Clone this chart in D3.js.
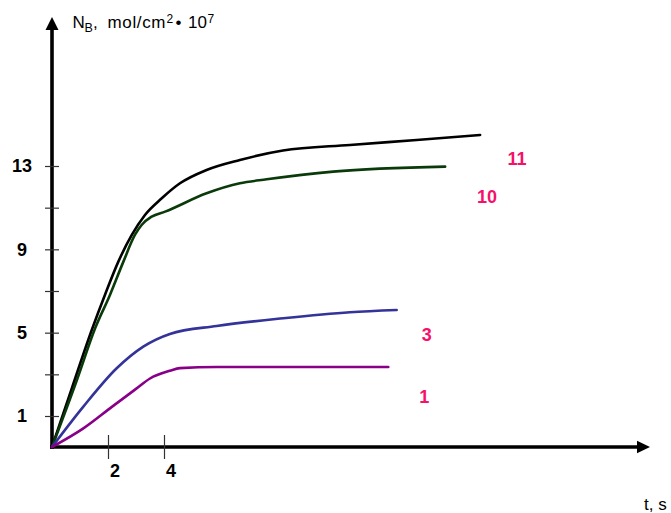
<!DOCTYPE html>
<html>
<head>
<meta charset="utf-8">
<script src="https://cdn.jsdelivr.net/npm/d3@7"></script>
<style>
  body { margin: 0; background: #fff; }
  svg { display: block; font-family: Arial, "Liberation Sans", sans-serif; }
</style>
</head>
<body>
<div id="grafico"></div>
<script>
// valores (t em s, N_B em mol/cm2 * 10^7)
const curveNames = ["11", "10", "3", "1"];
const t11 = [0, 0.71, 1.42, 1.89, 2.37, 2.85, 3.32, 3.92, 4.57, 5.52, 6.71, 8.25, 10.64, 13.02, 15.29];
const n11 = [0, 2.34, 5.13, 6.81, 8.41, 9.69, 10.65, 11.45, 12.17, 12.81, 13.29, 13.74, 14.01, 14.25, 14.49];
const t10 = [0, 0.89, 1.54, 2.07, 2.55, 2.96, 3.20, 3.56, 4.04, 5.52, 6.71, 7.67, 10.04, 14.04];
const n10 = [0, 2.73, 5.21, 6.81, 8.41, 9.69, 10.17, 10.57, 10.81, 11.69, 12.17, 12.36, 12.73, 12.97];
const t3 = [0, 1.12, 2.31, 3.26, 4.21, 5.88, 8.26, 10.64, 12.31];
const n3 = [0, 1.45, 3.29, 4.33, 4.94, 5.32, 5.69, 5.98, 6.09];
const t1 = [0, 1.12, 2.15, 3.00, 3.50, 4.21, 4.57, 5.88, 12.01];
const n1 = [0, 0.60, 1.45, 2.30, 2.80, 3.17, 3.30, 3.35, 3.35];

const yTicks = [1, 3, 5, 7, 9, 11, 13];
const yTickLabels = ["1", "", "5", "", "9", "", "13"];
const xTicks = [2, 4];

const cores = ["#000000", "#0a3a0a", "#333399", "#880088"];
const corRotulo = "#f5106a";
// deslocamento do número de cada curva em relação ao fim da linha (px)
const rotuloDx = [37, 42, 30, 36];
const rotuloDy = [30, 36, 31, 36];

const width = 671, height = 513;

const svg = d3.select("#grafico")
  .append("svg")
    .attr("width", width)
    .attr("height", height);

// escalas (eixo y desenhado à mão no original, por isso a escala em partes)
const x = d3.scaleLinear().domain([0, 20]).range([52, 612]);
const y = d3.scaleLinear().domain([0, 1, 13]).range([447, 416, 166]);

const x0 = x(0), y0 = y(0);

// eixo y com seta
svg.append("line")
  .attr("x1", x0).attr("x2", x0)
  .attr("y1", y0 + 2).attr("y2", 29)
  .attr("stroke", "#000").attr("stroke-width", 3.6);
svg.append("path")
  .attr("d", `M${x0},17 L${x0 - 6.5},30 L${x0 + 6.5},30 Z`)
  .attr("fill", "#000");

// eixo x com seta
svg.append("line")
  .attr("x1", x0 - 2).attr("x2", 640)
  .attr("y1", y0).attr("y2", y0)
  .attr("stroke", "#000").attr("stroke-width", 3.6);
svg.append("path")
  .attr("d", `M650,${y0} L637,${y0 - 6.3} L637,${y0 + 6.3} Z`)
  .attr("fill", "#000");

// marcas do eixo y
const gy = svg.append("g")
  .attr("transform", "translate(" + x0 + ",0)")
  .call(d3.axisLeft(y).tickValues(yTicks).tickSize(7)
    .tickFormat((d, i) => yTickLabels[i]));
gy.select(".domain").remove();
gy.selectAll(".tick line").attr("x1", 7).attr("stroke", "#333").attr("stroke-width", 1.2);
gy.selectAll(".tick text")
  .attr("x", -30)
  .attr("text-anchor", "middle")
  .attr("font-size", "18px")
  .attr("font-weight", "bold")
  .attr("font-family", "Arial, 'Liberation Sans', sans-serif")
  .attr("fill", "#000");

// marcas do eixo x
const gx = svg.append("g")
  .attr("transform", "translate(0," + y0 + ")")
  .call(d3.axisBottom(x).tickValues(xTicks).tickSize(12));
gx.select(".domain").remove();
gx.selectAll(".tick line").attr("y1", -12).attr("stroke", "#333").attr("stroke-width", 1.2);
gx.selectAll(".tick text")
  .attr("y", 17)
  .attr("dx", 6.5)
  .attr("font-size", "18px")
  .attr("font-weight", "bold")
  .attr("font-family", "Arial, 'Liberation Sans', sans-serif")
  .attr("fill", "#000");

// label do eixo y
const ylab = svg.append("text")
  .attr("y", 28)
  .attr("font-size", "17px")
  .attr("fill", "#000");
ylab.append("tspan").attr("x", 72.5).text("N");
ylab.append("tspan").attr("x", 84.5).attr("dy", 3.7).attr("font-size", "12.5px").text("B");
ylab.append("tspan").attr("x", 93).attr("dy", -3.7).text(",");
ylab.append("tspan").attr("x", 107.5).attr("textLength", 58).text("mol/cm");
ylab.append("tspan").attr("x", 166.5).attr("dy", -4.7).attr("font-size", "12px").text("2");
ylab.append("tspan").attr("x", 175.5).attr("dy", 4.7).text("•");
ylab.append("tspan").attr("x", 188).text("10");
ylab.append("tspan").attr("x", 207.5).attr("dy", -4.7).attr("font-size", "12px").text("7");

// label do eixo x
svg.append("text")
  .attr("x", 644)
  .attr("y", 510)
  .attr("font-size", "17px")
  .attr("fill", "#000")
  .text("t, s");

// curvas
const dados = [[t11, n11], [t10, n10], [t3, n3], [t1, n1]].map(([ts, ns]) =>
  ts.map((t, i) => ({ t: t, n: ns[i] })));

const linha = d3.line()
  .x(d => x(d.t))
  .y(d => y(d.n))
  .curve(d3.curveMonotoneX);

svg.selectAll(".curva")
  .data(dados)
  .enter()
  .append("path")
    .attr("class", "curva")
    .attr("d", linha)
    .attr("fill", "none")
    .attr("stroke", (d, i) => cores[i])
    .attr("stroke-width", 2.6)
    .attr("stroke-linecap", "round");

// números das curvas, ao lado do fim de cada linha
svg.selectAll(".rotulo")
  .data(dados)
  .enter()
  .append("text")
    .attr("class", "rotulo")
    .attr("x", (d, i) => x(d[d.length - 1].t) + rotuloDx[i])
    .attr("y", (d, i) => y(d[d.length - 1].n) + rotuloDy[i])
    .attr("text-anchor", "middle")
    .attr("font-size", "18px")
    .attr("font-weight", "bold")
    .attr("fill", corRotulo)
    .text((d, i) => curveNames[i]);
</script>
</body>
</html>
